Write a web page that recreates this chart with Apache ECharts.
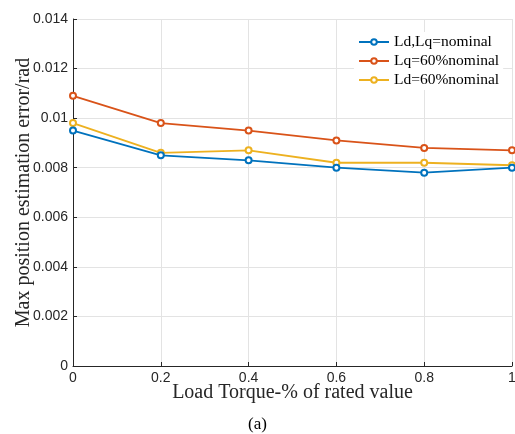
<!DOCTYPE html>
<html><head><meta charset="utf-8">
<script src="https://cdn.jsdelivr.net/npm/echarts@6/dist/echarts.min.js"></script>
<style>html,body{margin:0;padding:0;background:#fff}#c{width:515px;height:434px}</style>
</head><body><div id="c"></div>
<script>
const xValues = [0, 0.2, 0.4, 0.6, 0.8, 1];
const seriesNames = ['Ld,Lq=nominal', 'Lq=60%nominal', 'Ld=60%nominal'];
const nominal = [0.0095, 0.0085, 0.0083, 0.0080, 0.0078, 0.0080];
const lq60 = [0.0109, 0.0098, 0.0095, 0.0091, 0.0088, 0.0087];
const ld60 = [0.0098, 0.0086, 0.0087, 0.0082, 0.0082, 0.0081];
const colors = ['#0072BD', '#D95319', '#EDB120'];

const chart = echarts.init(document.getElementById('c'), null, {renderer: 'canvas'});
const mk = (name, vals, i) => ({
  name, type: 'line', data: xValues.map((x, k) => [x, vals[k]]),
  symbol: 'emptyCircle', symbolSize: 6, showSymbol: true,
  lineStyle: {width: 1.8, color: colors[i]},
  itemStyle: {color: colors[i], borderWidth: 1.4, borderColor: colors[i]},
  emphasis: {disabled: true}, animation: false, z: 3 + (2 - i)
});
chart.setOption({
  animation: false,
  grid: {left: 73, right: 3, top: 19, bottom: 68, containLabel: false, outerBoundsMode: 'none'},
  legend: {
    data: seriesNames, orient: 'vertical', left: 354, top: 32,
    backgroundColor: '#fff', padding: [2, 4, 2, 4], itemGap: 3,
    itemWidth: 30, itemHeight: 7,
    textStyle: {fontFamily: 'Liberation Serif', fontSize: 15.5, color: '#000', height: 16, lineHeight: 16}
  },
  xAxis: {
    type: 'value', min: 0, max: 1, interval: 0.2,
    name: 'Load Torque-% of rated value', nameLocation: 'middle', nameGap: 17, nameMoveOverlap: false,
    nameTextStyle: {fontFamily: 'Liberation Serif', fontSize: 20, color: '#262626'},
    axisLine: {lineStyle: {color: '#262626', width: 1}},
    axisTick: {inside: true, length: 4, lineStyle: {color: '#262626'}},
    axisLabel: {fontFamily: 'Liberation Sans', fontSize: 14, color: '#262626', margin: 5},
    splitLine: {show: true, lineStyle: {color: '#e3e3e3', width: 1}}
  },
  yAxis: {
    type: 'value', min: 0, max: 0.014, interval: 0.002,
    name: 'Max position estimation error/rad', nameLocation: 'middle', nameGap: 39, nameMoveOverlap: false,
    nameTextStyle: {fontFamily: 'Liberation Serif', fontSize: 20, color: '#262626'},
    axisLine: {show: true, lineStyle: {color: '#262626', width: 1}},
    axisTick: {show: true, inside: true, length: 4, lineStyle: {color: '#262626'}},
    axisLabel: {fontFamily: 'Liberation Sans', fontSize: 14, color: '#262626', margin: 5},
    splitLine: {show: true, lineStyle: {color: '#e3e3e3', width: 1}}
  },
  graphic: [{
    type: 'text', left: 'center', top: 416,
    style: {text: '(a)', fontFamily: 'Liberation Serif', fontSize: 17, fill: '#000'}
  }],
  series: [mk(seriesNames[0], nominal, 0), mk(seriesNames[1], lq60, 1), mk(seriesNames[2], ld60, 2)]
});
</script></body></html>
